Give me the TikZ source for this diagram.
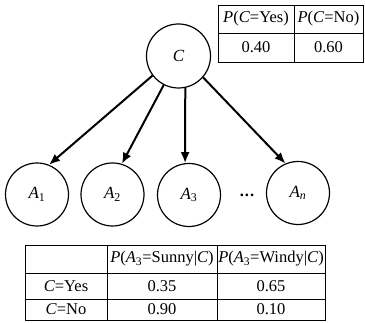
\documentclass[tikz,border=0pt]{standalone}
\usepackage{fontspec}
\setmainfont{Liberation Serif}
\usetikzlibrary{arrows.meta}
\begin{document}
\begin{tikzpicture}[x=1pt,y=-1pt,
  font=\fontsize{16.5}{19}\selectfont,
  var/.style={circle,draw,line width=1.2pt,minimum size=63pt,inner sep=0pt,
    font=\fontsize{17}{19}\selectfont},
  edge/.style={line width=2pt,-{Latex[length=11pt,width=9pt]}},
  grid/.style={line width=0.9pt},
  cell/.style={inner sep=0pt,anchor=center}]
\useasboundingbox (0,0) rectangle (365,323);

% class node and attribute nodes
\node[var,minimum size=64pt] (C) at (178.5,56) {\textit{C}};
\node[var] (A1) at (37,194.5) {\textit{A}\textsubscript{1}};
\node[var] (A2) at (112.5,194.5) {\textit{A}\textsubscript{2}};
\node[var] (A3) at (189,195) {\textit{A}\textsubscript{3}};
\node[var] (An) at (298,193) {\textit{A}\textsubscript{\textit{n}}};
\node[anchor=base,inner sep=0pt] (dots) at (247,197) {\textbf{.\kern1pt.\kern1pt.}};

% directed edges from the class to each attribute
\draw[edge] (C.217) -- (A1.68);
\draw[edge] (C.243) -- (A2.73);
\draw[edge] (C.282) -- (A3.97);
\draw[edge] (C.319) -- (An.113);

% prior table of C
\draw[grid] (218,5) rectangle (363,62);
\draw[grid] (218,33) -- (363,33);
\draw[grid] (294,5) -- (294,62);
\node[cell] (py) at (256,19) {\textit{P}(\textit{C}=Yes)};
\node[cell] (pn) at (328.5,19) {\textit{P}(\textit{C}=No)};
\node[cell] (vy) at (256,47.5) {0.40};
\node[cell] (vn) at (328.5,47.5) {0.60};

% conditional table of A3 given C
\draw[grid] (25,245) rectangle (325,320);
\draw[grid] (25,273) -- (325,273);
\draw[grid] (25,299) -- (325,299);
\draw[grid] (107,245) -- (107,320);
\draw[grid] (217,245) -- (217,320);
\node[cell] (hs) at (162,259) {\textit{P}(\textit{A}\textsubscript{3}=Sunny|\textit{C})};
\node[cell] (hw) at (271,259) {\textit{P}(\textit{A}\textsubscript{3}=Windy|\textit{C})};
\node[cell] (ry) at (66,286) {\textit{C}=Yes};
\node[cell] (rn) at (66,309.5) {\textit{C}=No};
\node[cell] (sy) at (162,286) {0.35};
\node[cell] (wy) at (271,286) {0.65};
\node[cell] (sn) at (162,309.5) {0.90};
\node[cell] (wn) at (271,309.5) {0.10};
\end{tikzpicture}
\end{document}
